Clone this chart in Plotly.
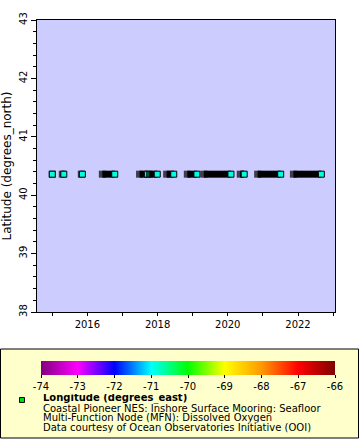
import plotly.graph_objects as go

# ---- data ----
seg_start = ["2015-01-01", "2015-04-15", "2015-10-30", "2016-06-05", "2017-06-27", "2017-10-08",
             "2018-04-05", "2018-11-06", "2019-04-27", "2020-05-10", "2020-11-07", "2021-11-14"]
seg_end = ["2015-01-01", "2015-05-01", "2015-11-10", "2016-10-12", "2017-09-16", "2017-12-28",
           "2018-06-18", "2019-02-14", "2020-02-03", "2020-06-20", "2021-07-05", "2022-09-01"]
latitude = 40.36
longitude = -70.88

cb_min, cb_max = -74, -66
cb_ticks = [-74, -73, -72, -71, -70, -69, -68, -67, -66]
y_ticks = [38, 39, 40, 41, 42, 43]

y_title = "Latitude (degrees_north)"
legend_lines = [
    "<b>Longitude (degrees_east)</b>",
    "Coastal Pioneer NES: Inshore Surface Mooring: Seafloor",
    "Multi-Function Node (MFN): Dissolved Oxygen",
    "Data courtesy of Ocean Observatories Initiative (OOI)",
]

rainbow = [(0.0, "#800080"), (0.125, "#ff00ff"), (0.25, "#0000ff"), (0.375, "#00ffff"),
           (0.5, "#00ff00"), (0.625, "#ffff00"), (0.75, "#ff9900"), (0.875, "#ff0000"),
           (1.0, "#800000")]

FONT = "DejaVu Sans"
W, H = 360, 440
L, R, T, B = 37, 335, 20, 312


def px_x(px):
    return (px - L) / (R - L)


def px_y(py):
    return (B - py) / (B - T)


fig = go.Figure()
n = len(seg_start)
for i, (s, e) in enumerate(zip(seg_start, seg_end)):
    fig.add_trace(go.Scatter(
        x=[s, e], y=[latitude, latitude], mode="lines+markers",
        line=dict(color="black", width=7),
        marker=dict(symbol="square", size=[7, 0], color="black", line=dict(width=0)),
        showlegend=False, hoverinfo="skip"))
    fig.add_trace(go.Scatter(
        x=[e], y=[latitude], mode="markers",
        marker=dict(symbol="square", size=6, color=[longitude], colorscale=rainbow,
                    cmin=cb_min, cmax=cb_max, line=dict(color="black", width=1),
                    showscale=(i == n - 1),
                    colorbar=dict(orientation="h", x=px_x((41 + 335) / 2), xanchor="center",
                                  y=px_y(360.5), yanchor="top", len=294, lenmode="pixels",
                                  thickness=14, outlinewidth=0, xpad=0, ypad=0,
                                  tickvals=cb_ticks, ticktext=[str(v) for v in cb_ticks],
                                  ticks="outside", ticklen=3, tickcolor="black",
                                  tickfont=dict(family=FONT, size=10, color="black"))),
        showlegend=False))

# legend box
fig.add_shape(type="rect", xref="paper", yref="paper",
              x0=px_x(0.5), x1=px_x(358.5), y0=px_y(438), y1=px_y(349),
              fillcolor="#ffffcc", line=dict(color="black", width=1), layer="below")
fig.add_shape(type="rect", xref="paper", yref="paper",
              x0=px_x(19.5), x1=px_x(24.5), y0=px_y(402.5), y1=px_y(397.5),
              fillcolor="#00dd00", line=dict(color="black", width=1))
for k, (txt, py) in enumerate(zip(legend_lines, [399.0, 408.6, 418.4, 428.0])):
    fig.add_annotation(text=txt, xref="paper", yref="paper", x=px_x(42), y=px_y(py),
                       xanchor="left", yanchor="middle", showarrow=False, height=9.5,
                       valign="bottom", borderpad=0,
                       font=dict(family=FONT, size=10, color="black"))

fig.update_layout(
    width=W, height=H,
    margin=dict(l=L, r=W - R, t=T, b=H - B, pad=0, autoexpand=False),
    paper_bgcolor="white", plot_bgcolor="#ccccff",
    font=dict(family=FONT, size=10, color="black"),
    xaxis=dict(type="date", range=["2014-07-26", "2023-01-21"], automargin=False,
               tick0="2016-01-01", dtick="M24", tickformat="%Y",
               ticks="outside", ticklen=3, tickcolor="black",
               minor=dict(dtick="M12", ticks="outside", ticklen=3, tickcolor="black"),
               showgrid=False, zeroline=False, showline=True, linecolor="black",
               linewidth=1, mirror=True, tickfont=dict(family=FONT, size=10)),
    yaxis=dict(range=[38, 43], tickvals=y_ticks, ticks="outside", ticklen=5,
               tickcolor="black", tickangle=-90, automargin=True,
               minor=dict(dtick=0.2, ticks="outside", ticklen=3, tickcolor="black"),
               showgrid=False, zeroline=False, showline=True, linecolor="black",
               linewidth=1, mirror=True, tickfont=dict(family=FONT, size=10),
               title=dict(text=y_title, standoff=3, font=dict(family=FONT, size=12))),
)

fig.write_html("out.html", config={"displayModeBar": False},
               post_script="document.body.style.margin='0px';")
